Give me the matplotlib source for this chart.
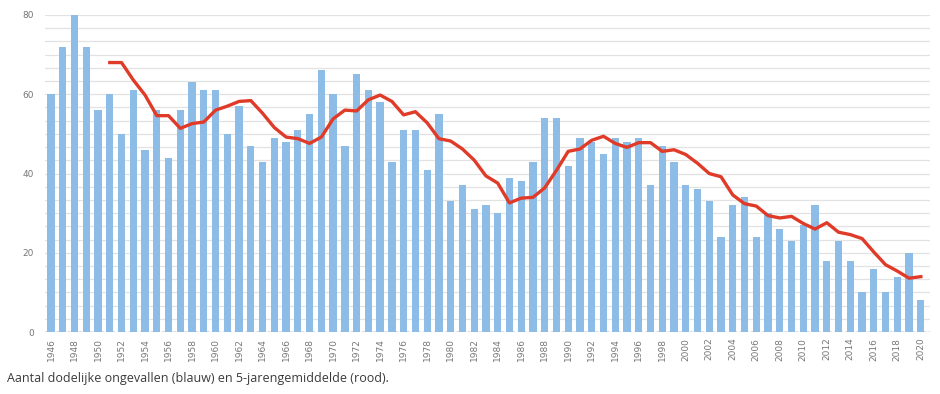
import numpy as np
import matplotlib.pyplot as plt

years = list(range(1946, 2021))
deaths = [60, 72, 80, 72, 56, 60, 50, 61, 46, 56,
          44, 56, 63, 61, 61, 50, 57, 47, 43, 49,
          48, 51, 55, 66, 60, 47, 65, 61, 58, 43,
          51, 51, 41, 55, 33, 37, 31, 32, 30, 39,
          38, 43, 54, 54, 42, 49, 48, 45, 49, 48,
          49, 37, 47, 43, 37, 36, 33, 24, 32, 34,
          24, 30, 26, 23, 27, 32, 18, 23, 18, 10,
          16, 10, 14, 20, 8]

# 5-jarengemiddelde (rood), 1951..2020
avg_years = list(range(1951, 2021))
avg5 = [68.0, 68.0, 63.6, 59.8, 54.6, 54.6, 51.4, 52.6, 53.0, 56.0,
        57.0, 58.2, 58.4, 55.2, 51.6, 49.2, 48.8, 47.6, 49.2, 53.8,
        56.0, 55.8, 58.6, 59.8, 58.2, 54.8, 55.6, 52.8, 48.8, 48.2,
        46.2, 43.4, 39.4, 37.6, 32.6, 33.8, 34.0, 36.4, 40.8, 45.6,
        46.2, 48.4, 49.4, 47.6, 46.6, 47.8, 47.8, 45.6, 46.0, 44.8,
        42.6, 40.0, 39.2, 34.6, 32.4, 31.8, 29.4, 28.8, 29.2, 27.4,
        26.0, 27.6, 25.2, 24.6, 23.6, 20.2, 17.0, 15.4, 13.6, 14.0]

caption = "Aantal dodelijke ongevallen (blauw) en 5-jarengemiddelde (rood)."

fig = plt.figure(figsize=(9.4, 3.94), dpi=100)
ax = fig.add_axes([0.048, 0.157, 0.941, 0.805])

# light horizontal grid (6 lines per 20)
for g in np.linspace(0, 80, 25):
    ax.axhline(g, color="#e2e2e2", lw=0.9, zorder=0)
ax.axhline(0, color="#555555", lw=1.0, ls=(0, (2, 2)), zorder=0.5)

ax.bar(years, deaths, width=0.62, color="#8dbde6", zorder=2)
ax.plot(avg_years, avg5, color="#e03a28", lw=2.4, zorder=3)

ax.set_xlim(1945.5, 2020.75)
ax.set_ylim(0, 80)
ax.set_yticks([0, 20, 40, 60, 80])
ax.set_xticks(years[::2])
ax.set_xticklabels([str(y) for y in years[::2]], rotation=90)
ax.tick_params(axis="both", length=0, labelsize=6.5, colors="#777777")
ax.tick_params(axis="x", pad=4)
ax.tick_params(axis="y", pad=8)
for s in ax.spines.values():
    s.set_visible(False)

fig.text(0.007, 0.03, caption, fontsize=9, color="#3a3a3a",
         family=["Open Sans", "DejaVu Sans"])

fig.savefig("out.png", dpi=100)
